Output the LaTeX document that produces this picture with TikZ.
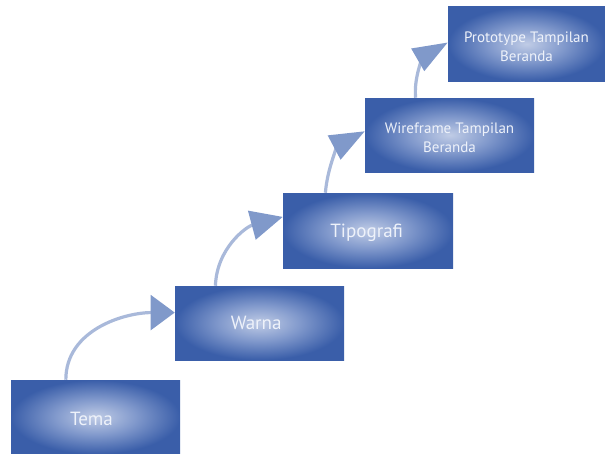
\documentclass[tikz,border=0pt]{standalone}
\usepackage{fontspec}
\setmainfont{PT Sans}
\usetikzlibrary{arrows.meta,calc}
\definecolor{boxin}{HTML}{C0CCE6}
\definecolor{boxmid}{HTML}{8199CC}
\definecolor{boxout}{HTML}{3A5EA9}
\definecolor{linecol}{HTML}{A9B9DA}
\definecolor{headcol}{HTML}{8099CA}
\definecolor{txtcol}{HTML}{EEF2FA}
\pgfdeclareradialshading{boxglow}{\pgfpoint{0bp}{0bp}}{color(0bp)=(boxin); color(12bp)=(boxmid); color(25bp)=(boxout); color(50bp)=(boxout)}
\newcommand{\lowtext}[2]{\raisebox{#1}[\height][\depth]{\begin{tabular}{@{}c@{}}#2\end{tabular}}}
\tikzset{
  stepbox/.style={rectangle, shading=boxglow, minimum width=126.75pt, minimum height=55.5pt, inner sep=0pt, text=txtcol, align=center, font=\fontsize{14.3pt}{16pt}\selectfont},
  smallbox/.style={stepbox, font=\fontsize{11.3pt}{14.2pt}\selectfont},
  flow/.style={draw=linecol, line width=2.4pt, line cap=butt}
}
\begin{document}
\begin{tikzpicture}[x=0.75pt,y=-0.75pt]
\useasboundingbox (0,0) rectangle (605,453);
\node[stepbox] (tema) at (95.5,417) {\lowtext{-3.2pt}{\hspace*{-6pt}Tema}};
\node[stepbox] (warna) at (259.5,323) {\lowtext{-1.5pt}{\hspace*{-5pt}Warna}};
\node[stepbox, minimum width=127.5pt, minimum height=56.25pt] (tipo) at (368,230.5) {\lowtext{-2pt}{\hspace*{-2pt}Tipografi}};
\node[smallbox] (wire) at (449.5,135) {\lowtext{-3.5pt}{Wireframe Tampilan\\Beranda}};
\node[smallbox, minimum width=117.75pt] (proto) at (526.5,44) {\lowtext{-3.5pt}{Prototype Tampilan\\Beranda}};
\coordinate (s1) at ($(tema.north west)!0.325!(tema.north east)$);
\coordinate (e1) at ($(warna.north west)!0.36!(warna.south west)$);
\coordinate (s2) at ($(warna.north west)!0.24!(warna.north east)$);
\coordinate (e2) at ($(tipo.north west)!0.32!(tipo.south west)$);
\coordinate (s3) at ($(tipo.north west)!0.25!(tipo.north east)$);
\coordinate (e3) at ($(wire.north west)!0.45!(wire.south west)$);
\coordinate (s4) at ($(wire.north west)!0.30!(wire.north east)$);
\coordinate (e4) at ($(proto.north west)!0.48!(proto.south west)$);
\draw[flow, -{Triangle[length=18pt,width=26pt,color=headcol]}] (s1) to[out=90,in=180] (e1);
\draw[flow, -{Triangle[length=24pt,width=22pt,color=headcol]}] (s2) to[out=88,in=195] (e2);
\draw[flow, -{Triangle[length=26pt,width=20pt,color=headcol]}] (s3) to[out=85,in=208] (e3);
\draw[flow, -{Triangle[length=26pt,width=19pt,color=headcol]}] (s4) to[out=95,in=210] (e4);
\end{tikzpicture}
\end{document}
